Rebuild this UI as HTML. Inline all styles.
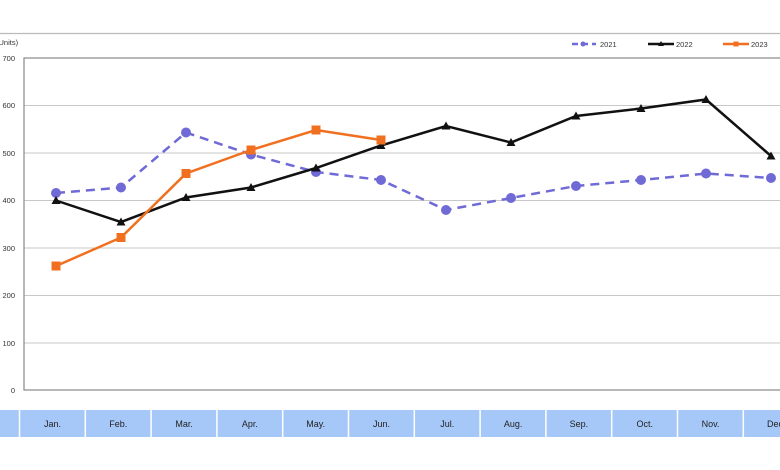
<!DOCTYPE html>
<html><head><meta charset="utf-8"><style>
html,body{margin:0;padding:0;background:#fff;}
svg{display:block;font-family:"Liberation Sans",sans-serif;}
</style></head><body>
<svg width="780" height="470" viewBox="0 0 780 470" xmlns="http://www.w3.org/2000/svg">
<rect width="780" height="470" fill="#fff"/>
<line x1="0" y1="33.5" x2="780" y2="33.5" stroke="#bbb" stroke-width="1.2"/>
<text x="-4" y="45" font-size="7.5" fill="#333">(Units)</text>
<!-- legend -->
<line x1="572" y1="44" x2="596" y2="44" stroke="#6f6ad6" stroke-width="2.5" stroke-dasharray="6,4"/>
<circle cx="583" cy="44" r="2.5" fill="#6f6ad6"/>
<text x="600" y="47" font-size="7.5" fill="#333">2021</text>
<line x1="648" y1="44" x2="674" y2="44" stroke="#111" stroke-width="2.5"/>
<polygon points="661,41 664,46 658,46" fill="#111"/>
<text x="676" y="47" font-size="7.5" fill="#333">2022</text>
<line x1="723" y1="44" x2="749" y2="44" stroke="#f07020" stroke-width="2.5"/>
<rect x="733.5" y="41.5" width="5" height="5" fill="#f07020"/>
<text x="751" y="47" font-size="7.5" fill="#333">2023</text>
<!-- grid -->
<g stroke="#c8c8c8" stroke-width="1">
<line x1="24" y1="105.5" x2="780" y2="105.5"/>
<line x1="24" y1="153" x2="780" y2="153"/>
<line x1="24" y1="200.5" x2="780" y2="200.5"/>
<line x1="24" y1="248" x2="780" y2="248"/>
<line x1="24" y1="295.5" x2="780" y2="295.5"/>
<line x1="24" y1="343" x2="780" y2="343"/>
</g>
<rect x="24" y="58" width="760" height="332" fill="none" stroke="#888" stroke-width="1.2"/>
<g font-size="7.5" fill="#333" text-anchor="end">
<text x="15" y="61">700</text><text x="15" y="108">600</text><text x="15" y="156">500</text>
<text x="15" y="203">400</text><text x="15" y="251">300</text><text x="15" y="298">200</text>
<text x="15" y="346">100</text><text x="15" y="393">0</text>
</g>
<!-- month band -->
<rect x="0" y="410" width="780" height="27" fill="#a6c8f8"/>
<g stroke="#fff" stroke-width="1.5">
<line x1="19.5" y1="410" x2="19.5" y2="437"/><line x1="85.3" y1="410" x2="85.3" y2="437"/>
<line x1="151.1" y1="410" x2="151.1" y2="437"/><line x1="216.9" y1="410" x2="216.9" y2="437"/>
<line x1="282.7" y1="410" x2="282.7" y2="437"/><line x1="348.5" y1="410" x2="348.5" y2="437"/>
<line x1="414.3" y1="410" x2="414.3" y2="437"/><line x1="480.1" y1="410" x2="480.1" y2="437"/>
<line x1="545.9" y1="410" x2="545.9" y2="437"/><line x1="611.7" y1="410" x2="611.7" y2="437"/>
<line x1="677.5" y1="410" x2="677.5" y2="437"/><line x1="743.3" y1="410" x2="743.3" y2="437"/>
</g>
<g font-size="9" fill="#222" text-anchor="middle">
<text x="52.5" y="427">Jan.</text><text x="118.3" y="427">Feb.</text><text x="184.1" y="427">Mar.</text>
<text x="249.9" y="427">Apr.</text><text x="315.7" y="427">May.</text><text x="381.5" y="427">Jun.</text>
<text x="447.3" y="427">Jul.</text><text x="513.1" y="427">Aug.</text><text x="578.9" y="427">Sep.</text>
<text x="644.7" y="427">Oct.</text><text x="710.5" y="427">Nov.</text><text x="776.3" y="427">Dec.</text>
</g>
<!-- 2021 -->
<polyline fill="none" stroke="#6f6ad6" stroke-width="2.5" stroke-dasharray="9,6"
points="56,193 121,187.5 186,132.5 251,154.5 316,172 381,180 446,210 511,198 576,186 641,180 706,173.5 771,178"/>
<g fill="#6f6ad6">
<circle cx="56" cy="193" r="5"/><circle cx="121" cy="187.5" r="5"/><circle cx="186" cy="132.5" r="5"/>
<circle cx="251" cy="154.5" r="5"/><circle cx="316" cy="172" r="5"/><circle cx="381" cy="180" r="5"/>
<circle cx="446" cy="210" r="5"/><circle cx="511" cy="198" r="5"/><circle cx="576" cy="186" r="5"/>
<circle cx="641" cy="180" r="5"/><circle cx="706" cy="173.5" r="5"/><circle cx="771" cy="178" r="5"/>
</g>
<!-- 2022 -->
<polyline fill="none" stroke="#111" stroke-width="2.5"
points="56,200.5 121,222 186,197.5 251,187.5 316,168 381,145.5 446,126 511,142.5 576,116 641,108.5 706,99.5 771,156"/>
<g fill="#111">
<polygon points="56,196 60.5,204 51.5,204"/><polygon points="121,217.5 125.5,225.5 116.5,225.5"/>
<polygon points="186,193 190.5,201 181.5,201"/><polygon points="251,183 255.5,191 246.5,191"/>
<polygon points="316,163.5 320.5,171.5 311.5,171.5"/><polygon points="381,141 385.5,149 376.5,149"/>
<polygon points="446,121.5 450.5,129.5 441.5,129.5"/><polygon points="511,138 515.5,146 506.5,146"/>
<polygon points="576,111.5 580.5,119.5 571.5,119.5"/><polygon points="641,104 645.5,112 636.5,112"/>
<polygon points="706,95 710.5,103 701.5,103"/><polygon points="771,151.5 775.5,159.5 766.5,159.5"/>
</g>
<!-- 2023 -->
<polyline fill="none" stroke="#f07020" stroke-width="2.5"
points="56,266 121,237.5 186,173.5 251,150 316,130 381,140"/>
<g fill="#f07020">
<rect x="51.5" y="261.5" width="9" height="9"/><rect x="116.5" y="233" width="9" height="9"/>
<rect x="181.5" y="169" width="9" height="9"/><rect x="246.5" y="145.5" width="9" height="9"/>
<rect x="311.5" y="125.5" width="9" height="9"/><rect x="376.5" y="135.5" width="9" height="9"/>
</g>
</svg>
</body></html>
